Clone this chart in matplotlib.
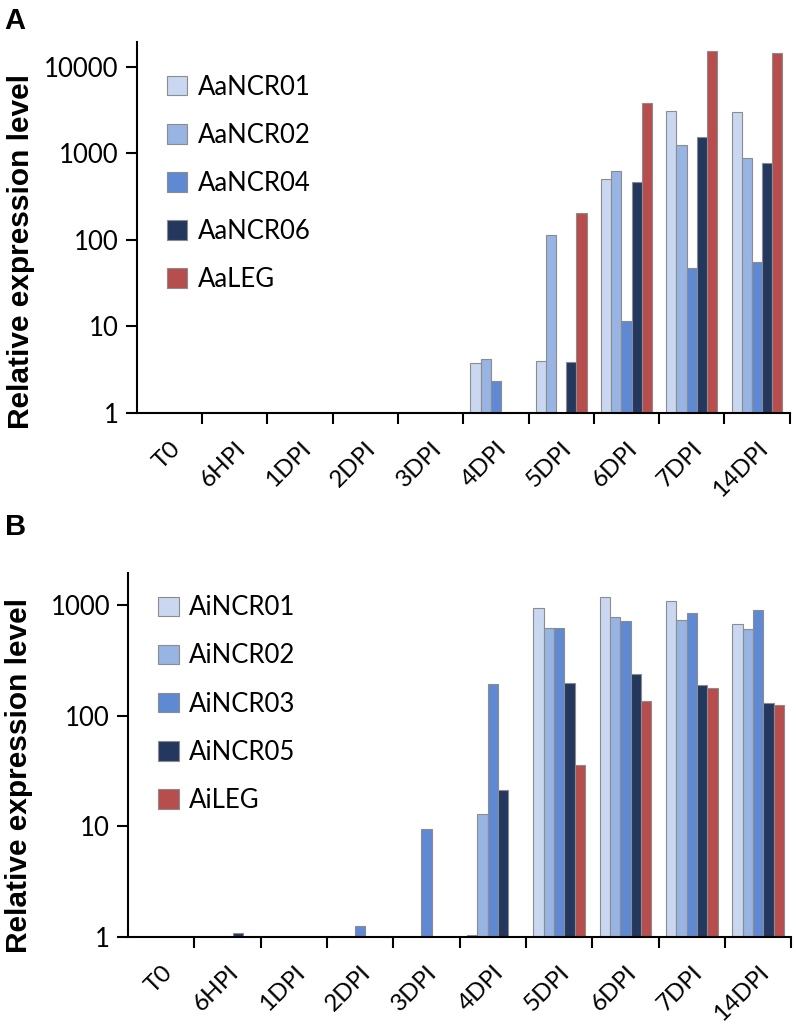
import numpy as np
import matplotlib
matplotlib.use("Agg")
import matplotlib.pyplot as plt

plt.rcParams['font.family'] = ['Lato', 'DejaVu Sans']

timepoints = ["T0", "6HPI", "1DPI", "2DPI", "3DPI", "4DPI", "5DPI", "6DPI", "7DPI", "14DPI"]

# panel A (Aa genes)
a_names = ["AaNCR01", "AaNCR02", "AaNCR04", "AaNCR06", "AaLEG"]
aa_ncr01 = [1, 1, 1, 1, 1, 3.8, 4.0, 505, 3120, 3030]
aa_ncr02 = [1, 1, 1, 1, 1, 4.2, 114, 628, 1250, 880]
aa_ncr04 = [1, 1, 1, 1, 1, 2.34, 1, 11.4, 47, 55]
aa_ncr06 = [1, 1, 1, 1, 1, 1, 3.9, 472, 1540, 783]
aa_leg = [1, 1, 1, 1, 1, 1, 207, 3800, 15500, 14400]

# panel B (Ai genes)
b_names = ["AiNCR01", "AiNCR02", "AiNCR03", "AiNCR05", "AiLEG"]
ai_ncr01 = [1, 1, 1, 1, 1, 1.04, 944, 1186, 1107, 682]
ai_ncr02 = [1, 1, 1, 1, 1, 13, 622, 794, 746, 615]
ai_ncr03 = [1, 1, 1, 1.26, 9.5, 196, 625, 719, 857, 918]
ai_ncr05 = [1, 1.09, 1, 1, 1, 21.6, 198, 239, 192, 131]
ai_leg = [1, 1, 1, 1, 1, 1, 36.3, 137, 181, 127]

colors = ["#c9d8f0", "#97b4e2", "#5f89d3", "#23375f", "#b84d4d"]
edge = "#8c8c8c"

fig = plt.figure(figsize=(7.96, 10.24), dpi=100)
axA = fig.add_axes([0.172, 0.597, 0.82, 0.362])
axB = fig.add_axes([0.161, 0.085, 0.833, 0.355])


def draw(ax, series, names, ytop, ticks, leg_y, lab_x, lab_y):
    x = np.arange(len(timepoints))
    w = 0.156
    for i, (vals, name) in enumerate(zip(series, names)):
        vals = np.array(vals, dtype=float)
        ax.bar(x + (i - 2) * w, vals - 1, bottom=1, width=w, color=colors[i],
               edgecolor=edge, linewidth=0.8, label=name)
    ax.set_yscale('log')
    ax.set_ylim(1, ytop)
    ax.set_xlim(-0.5, len(timepoints) - 0.5)
    ax.set_yticks(ticks)
    ax.set_yticklabels([str(t) for t in ticks], fontsize=18.5)
    ax.yaxis.set_minor_locator(matplotlib.ticker.NullLocator())
    ax.set_xticks(x)
    ax.set_xticklabels(timepoints, rotation=45, ha='right', rotation_mode='anchor', fontsize=17.5)
    ax.set_xticks(np.arange(len(timepoints)) + 0.5, minor=True)
    ax.tick_params(axis='x', which='major', length=0, pad=18)
    ax.tick_params(axis='x', which='minor', length=8, width=1.5, direction='out')
    ax.tick_params(axis='y', length=8, width=1.5, direction='out', pad=5)
    for s in ['top', 'right']:
        ax.spines[s].set_visible(False)
    for s in ['left', 'bottom']:
        ax.spines[s].set_linewidth(1.5)
    ax.set_ylabel("Relative expression level", fontsize=21.5, fontweight='bold',
                  family='Liberation Sans')
    ax.yaxis.set_label_coords(lab_x, lab_y)
    ax.legend(loc='upper left', bbox_to_anchor=(0.03, leg_y), frameon=False, fontsize=18.5,
              handlelength=0.8, handleheight=0.8, labelspacing=0.9, handletextpad=0.4,
              borderaxespad=0)


draw(axA, [aa_ncr01, aa_ncr02, aa_ncr04, aa_ncr06, aa_leg], a_names, 19500,
     [1, 10, 100, 1000, 10000], 0.94, -0.156, 0.434)
draw(axB, [ai_ncr01, ai_ncr02, ai_ncr03, ai_ncr05, ai_leg], b_names, 1950,
     [1, 10, 100, 1000], 0.968, -0.143, 0.445)

fig.text(0.006, 0.972, "A", fontsize=21, fontweight='bold', family='Liberation Sans')
fig.text(0.006, 0.478, "B", fontsize=21, fontweight='bold', family='Liberation Sans')

fig.savefig("out.png", dpi=100)
